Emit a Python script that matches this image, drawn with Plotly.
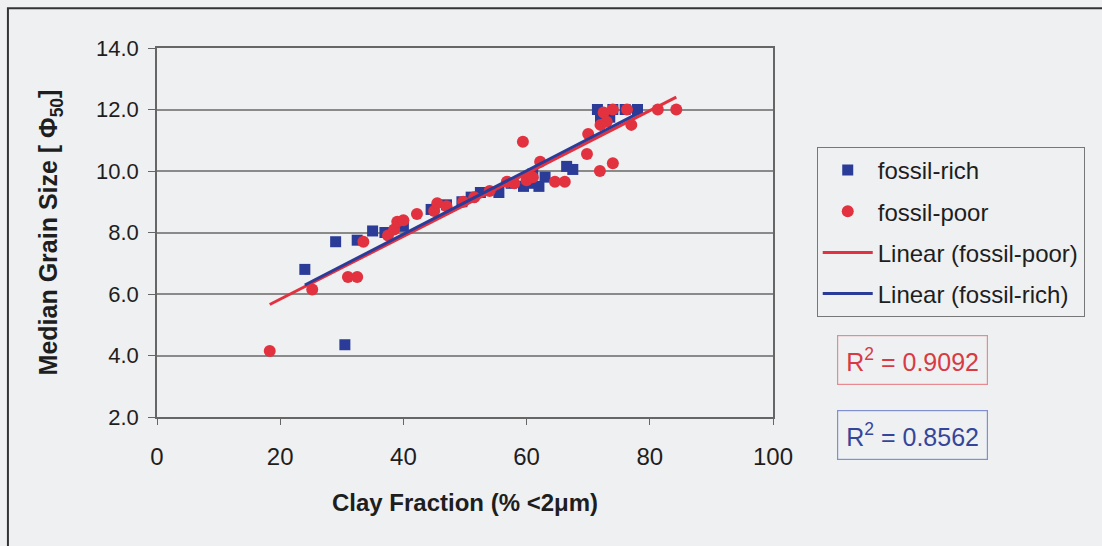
import numpy as np
import plotly.graph_objects as go

# fossil-rich (blue squares)
rich_x = [24, 30.5, 29, 32.5, 35, 37, 40, 44.5, 47, 49.5, 51, 52.5, 55.5, 57.5,
          59.5, 60.5, 61, 62, 63, 66.5, 67.5, 71.5, 72, 73.5, 74, 76, 78]
rich_y = [6.8, 4.35, 7.7, 7.75, 8.05, 8.0, 8.2, 8.75, 8.9, 9.0, 9.15, 9.3, 9.3, 9.6,
          9.5, 9.6, 9.9, 9.5, 9.8, 10.15, 10.05, 12.0, 11.7, 11.75, 12.0, 12.0, 12.0]

# fossil-poor (red circles)
poor_x = [18.3, 25.2, 31, 32.5, 33.5, 37.5, 38.5, 39, 40, 42.2, 45, 45.5, 47, 49.7,
          51.5, 54, 56.8, 58, 59.4, 60, 61, 62.2, 64.6, 66.2, 69.8, 70, 71.9, 72,
          73, 74, 74, 76.3, 77, 81.3, 84.3, 72.5]
poor_y = [4.15, 6.15, 6.55, 6.55, 7.7, 7.9, 8.1, 8.35, 8.4, 8.6, 8.7, 8.95, 8.85, 9.0,
          9.15, 9.35, 9.65, 9.6, 10.95, 9.7, 9.8, 10.3, 9.65, 9.65, 10.55, 11.2, 10.0, 11.5,
          11.6, 10.25, 12.0, 12.0, 11.5, 12.0, 12.0, 11.9]

r2_poor = "0.9092"
r2_rich = "0.8562"

x_ticks = [0, 20, 40, 60, 80, 100]
y_ticks = [2.0, 4.0, 6.0, 8.0, 10.0, 12.0, 14.0]

BLUE = "#2b3c98"
RED = "#e2323f"
FONT = "Liberation Sans, Arial, sans-serif"
BG = "#eef0f2"
TXT = "#1e1e1e"

def trend(xs, ys):
    m, c = np.polyfit(xs, ys, 1)
    xx = np.array([min(xs), max(xs)])
    return xx, m * xx + c

fig = go.Figure()
fig.add_trace(go.Scatter(x=rich_x, y=rich_y, mode="markers", name="fossil-rich",
                         legendgroup="a",
                         marker=dict(symbol="square", size=11, color=BLUE)))
fig.add_trace(go.Scatter(x=poor_x, y=poor_y, mode="markers", name="fossil-poor",
                         legendgroup="b",
                         marker=dict(symbol="circle", size=12, color=RED)))
tx, ty = trend(poor_x, poor_y)
fig.add_trace(go.Scatter(x=tx, y=ty, mode="lines", name="Linear (fossil-poor)",
                         legendgroup="c", line=dict(color=RED, width=3)))
tx, ty = trend(rich_x, rich_y)
fig.add_trace(go.Scatter(x=tx, y=ty, mode="lines", name="Linear (fossil-rich)",
                         legendgroup="d", line=dict(color=BLUE, width=3)))

fig.update_layout(
    width=1102, height=546,
    margin=dict(l=157, r=329, t=48, b=129),
    paper_bgcolor=BG, plot_bgcolor=BG,
    font=dict(family=FONT, size=20, color=TXT),
    showlegend=True,
    legend=dict(x=1.071, y=0.732, xanchor="left", yanchor="top",
                bgcolor=BG, bordercolor="#777", borderwidth=1,
                font=dict(size=24, color=TXT), tracegroupgap=7,
                itemwidth=50),
    xaxis=dict(range=[0, 100], tickvals=x_ticks, ticktext=[str(v) for v in x_ticks],
               showgrid=False, zeroline=False, showline=True, linecolor="#666",
               linewidth=1.5, mirror=True, ticks="outside", ticklen=6, tickcolor="#666",
               ticklabelstandoff=11, tickfont=dict(size=24, color=TXT),
               title=dict(text="<b>Clay Fraction (% <2μm)</b>", font=dict(size=24, color=TXT),
                          standoff=26)),
    yaxis=dict(range=[2, 14], tickvals=y_ticks, ticktext=["%.1f" % v for v in y_ticks],
               showgrid=True, gridcolor="#8a8a8a", gridwidth=1.5, zeroline=False,
               showline=True, linecolor="#666", linewidth=1.5, mirror=True,
               ticks="outside", ticklen=7, tickcolor="#666", ticklabelstandoff=5,
               tickfont=dict(size=22, color=TXT),
               title=dict(text="<b>Median Grain Size [ Φ<sub>50</sub>]</b>",
                          font=dict(size=25, color=TXT), standoff=31)),
)

# outer frame
fig.add_shape(type="rect", xref="paper", yref="paper", x0=-0.242, x1=2.0, y0=-0.8, y1=1.108,
              line=dict(color="#333", width=2), fillcolor="rgba(0,0,0,0)", layer="below")

fig.add_annotation(xref="paper", yref="paper", x=1.226, y=0.154, xanchor="center",
                   yanchor="middle", showarrow=False,
                   text="R<sup>2</sup> = " + r2_poor, font=dict(size=25, color="#d83a44"),
                   bordercolor="#e98a90", borderwidth=1.2, borderpad=8, bgcolor=BG)
fig.add_annotation(xref="paper", yref="paper", x=1.226, y=-0.049, xanchor="center",
                   yanchor="middle", showarrow=False,
                   text="R<sup>2</sup> = " + r2_rich, font=dict(size=25, color="#34469a"),
                   bordercolor="#7f8fcf", borderwidth=1.2, borderpad=8, bgcolor=BG)

fig.write_html("out.html")
